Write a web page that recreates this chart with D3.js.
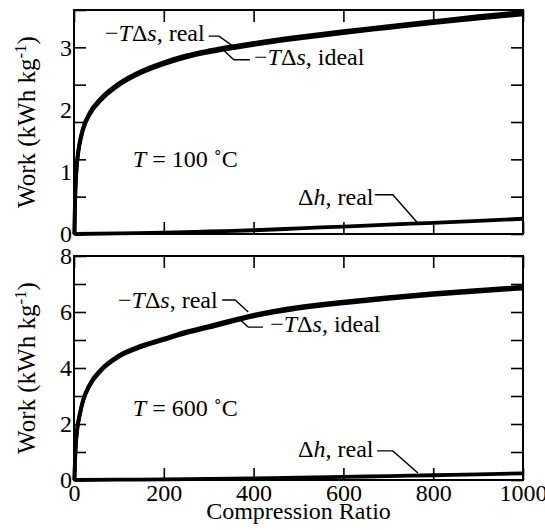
<!DOCTYPE html>
<html>
<head>
<meta charset="utf-8">
<script src="https://cdn.jsdelivr.net/npm/d3@7"></script>
<style>
  body { margin: 0; background: #fff; }
  .frame { fill: none; stroke: #000; stroke-width: 2; }
  .ticks path.domain { display: none; }
  .ticks line { stroke: #000; stroke-width: 1.6; }
  .curve { fill: none; stroke: #000; stroke-width: 3.8; stroke-linejoin: round; }
  .leader { fill: none; stroke: #000; stroke-width: 1.4; }
</style>
</head>
<body>
<div id="chart"></div>
<script>
// compression ratio samples used by the -T ds curves
const ratio = [1, 2, 3, 5, 8, 12, 20, 35, 60, 100, 150, 200, 250, 300, 400, 500, 600, 700, 800, 900, 1000];
// T = 100 C
const tdsReal100  = [0, 0.45, 0.7, 1.0, 1.25, 1.45, 1.7, 1.95, 2.18, 2.42, 2.62, 2.76, 2.87, 2.95, 3.07, 3.17, 3.26, 3.34, 3.42, 3.50, 3.57];
const tdsIdeal100 = [0, 0.43, 0.68, 0.97, 1.22, 1.42, 1.67, 1.92, 2.15, 2.39, 2.59, 2.73, 2.84, 2.92, 3.04, 3.14, 3.23, 3.31, 3.39, 3.46, 3.53];
// T = 600 C
const tdsReal600  = [0, 0.6, 1.0, 1.5, 1.95, 2.3, 2.85, 3.42, 3.95, 4.45, 4.8, 5.05, 5.3, 5.5, 5.9, 6.18, 6.37, 6.53, 6.67, 6.79, 6.9];
const tdsIdeal600 = [0, 0.57, 0.96, 1.46, 1.9, 2.25, 2.8, 3.37, 3.9, 4.4, 4.75, 5.0, 5.24, 5.44, 5.84, 6.12, 6.31, 6.47, 6.61, 6.73, 6.84];

// enthalpy change, real gas
const ratioH = [1, 100, 200, 300, 400, 500, 600, 700, 800, 900, 1000];
const dhReal100 = [0, 0.01, 0.02, 0.04, 0.06, 0.09, 0.12, 0.15, 0.18, 0.21, 0.245];
const dhReal600 = [0, 0.01, 0.02, 0.04, 0.06, 0.08, 0.11, 0.14, 0.17, 0.20, 0.24];

// axis ticks
const xTicks = [0, 200, 400, 600, 800, 1000];
const yMarks100 = [0, 0.6, 1.2, 1.8, 2.4, 3.0, 3.6];
const yLabels100 = [0, 1, 2, 3];
const yMarks600 = [0, 1, 2, 3, 4, 5, 6, 7, 8];
const yLabels600 = [0, 2, 4, 6, 8];

const W = 545, H = 530;
const left = 74, right = 523;
const FONT = "'Liberation Serif', 'Times New Roman', Times, serif";

const svg = d3.select("#chart").append("svg")
    .attr("width", W)
    .attr("height", H)
    .attr("font-family", FONT)
    .attr("font-size", 24)
    .style("font-family", FONT);

const x = d3.scaleLinear().domain([0, 1000]).range([left, right]);

function plain(s) {
    s.attr("font-family", null).attr("font-size", null);
    s.selectAll("text").attr("fill", "#000").style("font-family", FONT).style("font-size", "24px");
}

function drawPanel(p) {
    const y = d3.scaleLinear().domain([0, p.ymax]).range([p.bottom, p.top]);
    const g = svg.append("g");

    // inward ticks on all four sides
    g.append("g").attr("class", "ticks")
        .attr("transform", `translate(${left},0)`)
        .call(d3.axisRight(y).tickValues(p.marks).tickSize(12).tickFormat(""));
    g.append("g").attr("class", "ticks")
        .attr("transform", `translate(${right},0)`)
        .call(d3.axisLeft(y).tickValues(p.marks).tickSize(12).tickFormat(""));
    g.append("g").attr("class", "ticks")
        .attr("transform", `translate(0,${p.top})`)
        .call(d3.axisBottom(x).tickValues(xTicks).tickSize(12).tickFormat(""));
    g.append("g").attr("class", "ticks")
        .attr("transform", `translate(0,${p.bottom})`)
        .call(d3.axisTop(x).tickValues(xTicks).tickSize(12).tickFormat(""));

    // y labels
    g.append("g").attr("class", "ticks")
        .attr("transform", `translate(${left},0)`)
        .call(d3.axisLeft(y).tickValues(p.labels).tickSize(0).tickPadding(2).tickFormat(d3.format("d")))
        .call(plain);

    if (p.xlabels) {
        g.append("g").attr("class", "ticks")
            .attr("transform", `translate(0,${p.bottom})`)
            .call(d3.axisBottom(x).tickValues(xTicks).tickSize(0).tickPadding(4).tickFormat(d3.format("d")))
            .call(plain);
    }

    g.append("rect").attr("class", "frame")
        .attr("x", left).attr("y", p.top)
        .attr("width", right - left).attr("height", p.bottom - p.top);

    const line = d3.line().x(d => x(d[0])).y(d => y(d[1])).curve(d3.curveMonotoneX);

    g.append("path").attr("class", "curve")
        .attr("d", line(d3.zip(ratio, p.ideal)));
    g.append("path").attr("class", "curve")
        .attr("d", line(d3.zip(ratio, p.real)));
    g.append("path").attr("class", "curve")
        .attr("d", line(d3.zip(ratioH, p.dh)));

    // y axis title
    const yt = g.append("text")
        .attr("transform", `translate(35,${(p.top + p.bottom) / 2}) rotate(-90)`)
        .attr("text-anchor", "middle")
        .attr("font-size", 25);
    yt.append("tspan").text("Work (kWh kg");
    yt.append("tspan").attr("baseline-shift", "super").attr("font-size", 17).text("-1");
    yt.append("tspan").text(")");

    // annotations
    const lead = d3.line().x(d => x(d[0])).y(d => y(d[1]));
    p.leaders.forEach(l => g.append("path").attr("class", "leader").attr("d", lead(l)));

    function tds(pos, tail) {
        const el = g.append("text").attr("x", x(pos[0])).attr("y", y(pos[1]));
        el.append("tspan").text("\u2212");
        el.append("tspan").attr("font-style", "italic").text("T");
        el.append("tspan").text("\u0394");
        el.append("tspan").attr("font-style", "italic").text("s");
        el.append("tspan").text(", " + tail);
    }
    tds(p.realText, "real");
    tds(p.idealText, "ideal");

    const tt = g.append("text").attr("x", x(p.tempText[0])).attr("y", y(p.tempText[1]));
    tt.append("tspan").attr("font-style", "italic").text("T");
    tt.append("tspan").text(" = " + p.temp + " \u02DAC");

    const dt = g.append("text").attr("x", x(p.dhText[0])).attr("y", y(p.dhText[1]));
    dt.append("tspan").text("\u0394");
    dt.append("tspan").attr("font-style", "italic").text("h");
    dt.append("tspan").text(", real");
}

drawPanel({
    top: 10, bottom: 234, ymax: 3.6,
    marks: yMarks100, labels: yLabels100, xlabels: false,
    real: tdsReal100, ideal: tdsIdeal100, dh: dhReal100,
    temp: 100,
    realText: [69, 3.10], idealText: [401, 2.72], tempText: [131, 1.08], dhText: [499, 0.47],
    leaders: [
        [[300, 3.18], [323, 3.18], [354, 3.02]],
        [[332, 2.96], [356, 2.80], [392, 2.80]],
        [[670, 0.63], [710, 0.63], [764, 0.19]]
    ]
});

drawPanel({
    top: 256, bottom: 480, ymax: 8,
    marks: yMarks600, labels: yLabels600, xlabels: true,
    real: tdsReal600, ideal: tdsIdeal600, dh: dhReal600,
    temp: 600,
    realText: [98, 6.14], idealText: [437, 5.29], tempText: [131, 2.29], dhText: [499, 0.82],
    leaders: [
        [[330, 6.43], [359, 6.43], [388, 6.0]],
        [[363, 5.82], [388, 5.46], [421, 5.46]],
        [[675, 1.04], [710, 1.04], [766, 0.25]]
    ]
});

svg.append("text")
    .attr("x", (left + right) / 2)
    .attr("y", 519)
    .attr("text-anchor", "middle")
    .text("Compression Ratio");
</script>
</body>
</html>
